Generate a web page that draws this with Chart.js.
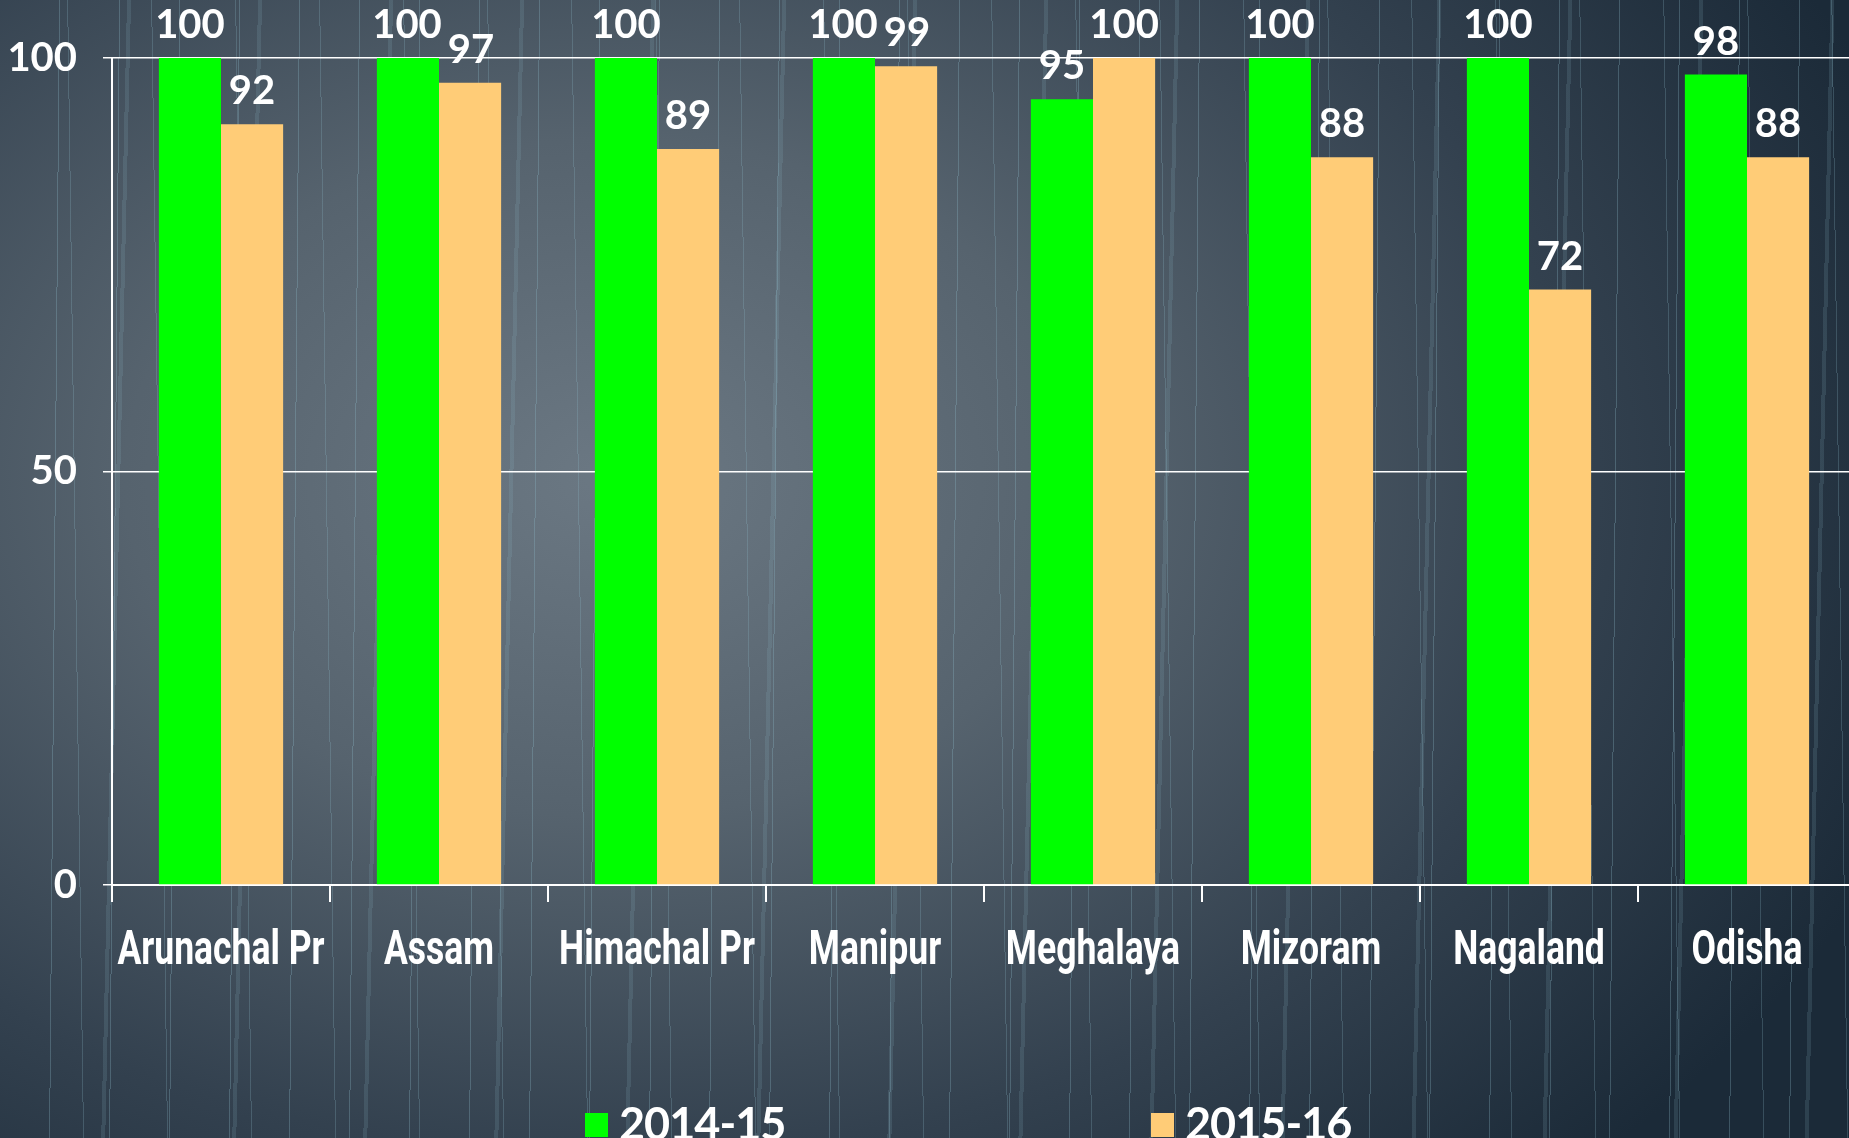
<!DOCTYPE html>
<html>
<head>
<meta charset="utf-8">
<script src="https://cdn.jsdelivr.net/npm/chart.js@4.4.1/dist/chart.umd.min.js"></script>
<style>
  html, body { margin: 0; padding: 0; width: 1849px; height: 1138px; overflow: hidden; }
  body {
    position: relative;
    background:
      repeating-linear-gradient(90.5deg, transparent 0 59px, rgba(140,185,200,0.30) 59px 60px),
      repeating-linear-gradient(89.2deg, transparent 0 83px, rgba(140,185,200,0.25) 83px 84px),
      repeating-linear-gradient(91.3deg, transparent 0 127px, rgba(140,185,200,0.16) 127px 131px),
      radial-gradient(ellipse 75% 85% at 33% 42%, #6b7883 0%, #56636e 35%, #33414f 70%, #1b2a38 100%);
  }
  #wrap { position: absolute; left: 0; top: 0; width: 1870px; height: 1138px; }
  #legend { position: absolute; left: 585px; top: 1095px; display: flex; }
  .item { width: 566px; display: flex; align-items: center; }
  .box { width: 23px; height: 24px; margin-right: 11px; margin-top: 4px; }
  .txt { color: #fff; font: bold 45px Lato, 'Open Sans', sans-serif; line-height: 56px; letter-spacing: -1px; }
</style>
</head>
<body>
<div id="wrap"><canvas id="barChart" width="1870" height="1138"></canvas></div>
<div id="legend"></div>
<script>
// categories and values
var states = ["Arunachal Pr", "Assam", "Himachal Pr", "Manipur", "Meghalaya", "Mizoram", "Nagaland", "Odisha"];
var year1 = [100, 100, 100, 100, 95, 100, 100, 98];
var year2 = [92, 97, 89, 99, 100, 88, 72, 88];
var seriesNames = ["2014-15", "2015-16"];
var yTicks = [0, 50, 100];

var numFont = { family: "Lato, 'Open Sans', sans-serif", size: 40, weight: 'bold' };
var nameFont = "bold 48px Roboto, 'Open Sans', sans-serif";

// value labels above every bar, pushed apart sideways when two in a group collide
var valueLabels = {
  id: 'valueLabels',
  afterDatasetsDraw: function (chart) {
    var c = chart.ctx;
    c.save();
    c.fillStyle = '#fff';
    c.font = 'bold ' + numFont.size + 'px ' + numFont.family;
    c.textAlign = 'center';
    c.textBaseline = 'alphabetic';
    var m0 = chart.getDatasetMeta(0).data, m1 = chart.getDatasetMeta(1).data;
    chart.data.labels.forEach(function (lab, j) {
      var a = { t: String(year1[j]), x: m0[j].x, y: m0[j].y - 20 };
      var b = { t: String(year2[j]), x: m1[j].x, y: m1[j].y - 20 };
      var need = (c.measureText(a.t).width + c.measureText(b.t).width) / 2 + 6;
      var gap = b.x - a.x;
      if (Math.abs(a.y - b.y) < numFont.size * 0.8 && gap < need) {
        a.x -= (need - gap) / 2;
        b.x += (need - gap) / 2;
      }
      c.fillText(a.t, a.x, a.y);
      c.fillText(b.t, b.x, b.y);
    });
    c.restore();
  }
};

// condensed category names under the x axis (no narrow font installed)
var narrowNames = {
  id: 'narrowNames',
  afterDraw: function (chart) {
    var c = chart.ctx, xs = chart.scales.x;
    c.save();
    c.fillStyle = '#fff';
    c.font = nameFont;
    c.textAlign = 'center';
    c.textBaseline = 'alphabetic';
    chart.data.labels.forEach(function (lab, i) {
      c.save();
      c.translate(xs.getPixelForTick(i), xs.top + 79);
      c.scale(0.74, 1);
      c.fillText(lab, 0, 0);
      c.restore();
    });
    c.restore();
  }
};

var ctx = document.getElementById('barChart').getContext('2d');
var barChart = new Chart(ctx, {
  type: 'bar',
  data: {
    labels: states,
    datasets: [{
      label: seriesNames[0],
      backgroundColor: '#00ff00',
      data: year1
    }, {
      label: seriesNames[1],
      backgroundColor: '#ffcc77',
      data: year2
    }]
  },
  options: {
    responsive: false,
    animation: false,
    devicePixelRatio: 1,
    layout: { padding: { top: 58, left: 0, right: 14, bottom: 0 } },
    datasets: { bar: { categoryPercentage: 0.57, barPercentage: 1 } },
    plugins: {
      legend: { display: false },
      tooltip: { enabled: false }
    },
    scales: {
      x: {
        grid: { drawOnChartArea: false, drawTicks: true, tickLength: 17, color: '#ffffff', lineWidth: 2 },
        border: { color: '#ffffff', width: 2 },
        ticks: { display: false },
        afterFit: function (s) { s.height = 253; }
      },
      y: {
        min: 0,
        max: 100,
        afterBuildTicks: function (s) { s.ticks = yTicks.map(function (v) { return { value: v }; }); },
        grid: { color: '#ffffff', lineWidth: 1.5, tickLength: 9 },
        border: { color: '#ffffff', width: 2 },
        ticks: { color: '#ffffff', font: numFont, padding: 26 },
        afterFit: function (s) { s.width = 112; }
      }
    }
  },
  plugins: [valueLabels, narrowNames]
});

// legend built from the datasets
var lg = document.getElementById('legend');
barChart.data.datasets.forEach(function (ds) {
  var it = document.createElement('div');
  it.className = 'item';
  it.innerHTML = '<span class="box" style="background:' + ds.backgroundColor + '"></span><span class="txt">' + ds.label + '</span>';
  lg.appendChild(it);
});
</script>
</body>
</html>
